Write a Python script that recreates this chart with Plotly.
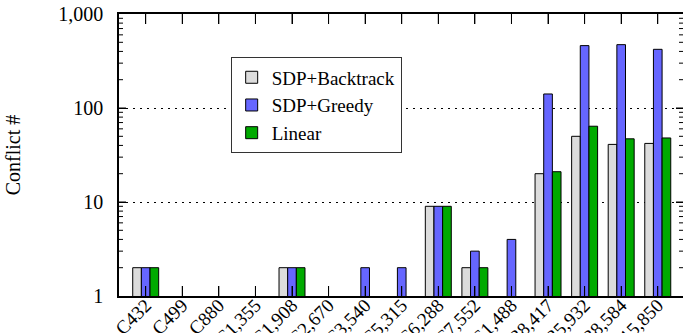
import plotly.graph_objects as go

categories = ["C432", "C499", "C880", "C1,355", "C1,908", "C2,670", "C3,540", "C5,315",
              "C6,288", "C7,552", "S1,488", "S38,417", "S35,932", "S38,584", "S15,850"]
sdp_backtrack = [2, None, None, None, 2, None, None, None, 9, 2, None, 20, 50, 41, 42]
sdp_greedy = [2, None, None, None, 2, None, 2, 2, 9, 3, 4, 141, 461, 472, 421]
linear = [2, None, None, None, 2, None, None, None, 9, 2, None, 21, 64, 47, 48]

series_names = ["SDP+Backtrack", "SDP+Greedy", "Linear"]
series_colors = ["#dcdcdc", "#6666ff", "#00aa00"]

FONT = "Liberation Serif"
X_RANGE = [-0.73, 14.69]
Y_RANGE = [0, 3]
PLOT_W = 683 - 119
PLOT_H = 333 - 14 - 37

fig = go.Figure()
for name, vals, col in zip(series_names, [sdp_backtrack, sdp_greedy, linear], series_colors):
    fig.add_trace(go.Bar(
        x=categories, y=vals, name=name,
        marker=dict(color=col, line=dict(color="black", width=1)),
    ))

# inside, mirrored tick marks as thin shapes (log axis: shape y given as data values)
px_x = (X_RANGE[1] - X_RANGE[0]) / PLOT_W
px_y = (Y_RANGE[1] - Y_RANGE[0]) / PLOT_H
tick_line = dict(color="black", width=1)
y_lo, y_hi = 10 ** Y_RANGE[0], 10 ** Y_RANGE[1]
for i in range(len(categories)):
    fig.add_shape(type="line", xref="x", yref="y", x0=i, x1=i,
                  y0=y_lo, y1=10 ** (Y_RANGE[0] + 10 * px_y), line=tick_line, layer="above")
    fig.add_shape(type="line", xref="x", yref="y", x0=i, x1=i,
                  y0=y_hi, y1=10 ** (Y_RANGE[1] - 10 * px_y), line=tick_line, layer="above")
for dec in range(Y_RANGE[0], Y_RANGE[1]):
    for k in range(1, 10):
        if dec == 0 and k == 1:
            continue
        yv = k * 10 ** dec
        ln = 7 if k == 1 else 4
        fig.add_shape(type="line", xref="x", yref="y", x0=X_RANGE[0], x1=X_RANGE[0] + ln * px_x,
                      y0=yv, y1=yv, line=tick_line, layer="above")
        fig.add_shape(type="line", xref="x", yref="y", x0=X_RANGE[1], x1=X_RANGE[1] - ln * px_x,
                      y0=yv, y1=yv, line=tick_line, layer="above")

fig.update_layout(
    width=683, height=333,
    margin=dict(l=119, r=0, t=14, b=37, autoexpand=False),
    paper_bgcolor="white", plot_bgcolor="white",
    barmode="group", bargap=0.29, bargroupgap=0,
    font=dict(family=FONT, size=20, color="black"),
    showlegend=True,
    legend=dict(
        x=0.198, y=0.846, xanchor="left", yanchor="top",
        bgcolor="white", bordercolor="#333333", borderwidth=1,
        font=dict(family=FONT, size=19, color="black"),
        tracegroupgap=0, itemwidth=30,
    ),
    xaxis=dict(
        type="category",
        range=X_RANGE,
        tickangle=-45,
        ticks="inside", ticklen=10, tickwidth=1, tickcolor="#000000",
        showline=True, linecolor="black", linewidth=1.5, mirror="allticks",
        showgrid=False, zeroline=False, automargin=False,
        ticklabelstandoff=-11,
        tickfont=dict(family=FONT, size=19, color="black"),
    ),
    yaxis=dict(
        type="log", range=Y_RANGE,
        tickmode="linear", tick0=0, dtick=1, tickformat=",d",
        ticks="inside", ticklen=7, tickwidth=1, tickcolor="#000000",
        showline=True, linecolor="black", linewidth=1.5, mirror="allticks",
        showgrid=True, gridcolor="black", gridwidth=1, griddash="2px,5px",
        zeroline=False, automargin=False,
        ticklabelstandoff=10,
        tickfont=dict(family=FONT, size=20, color="black"),
        title=dict(text="Conflict #", font=dict(family=FONT, size=20, color="black"), standoff=32),
    ),
)

fig.write_html("out.html", config={"displayModeBar": False},
               post_script="document.body.style.margin='0';document.body.style.overflow='hidden';")
